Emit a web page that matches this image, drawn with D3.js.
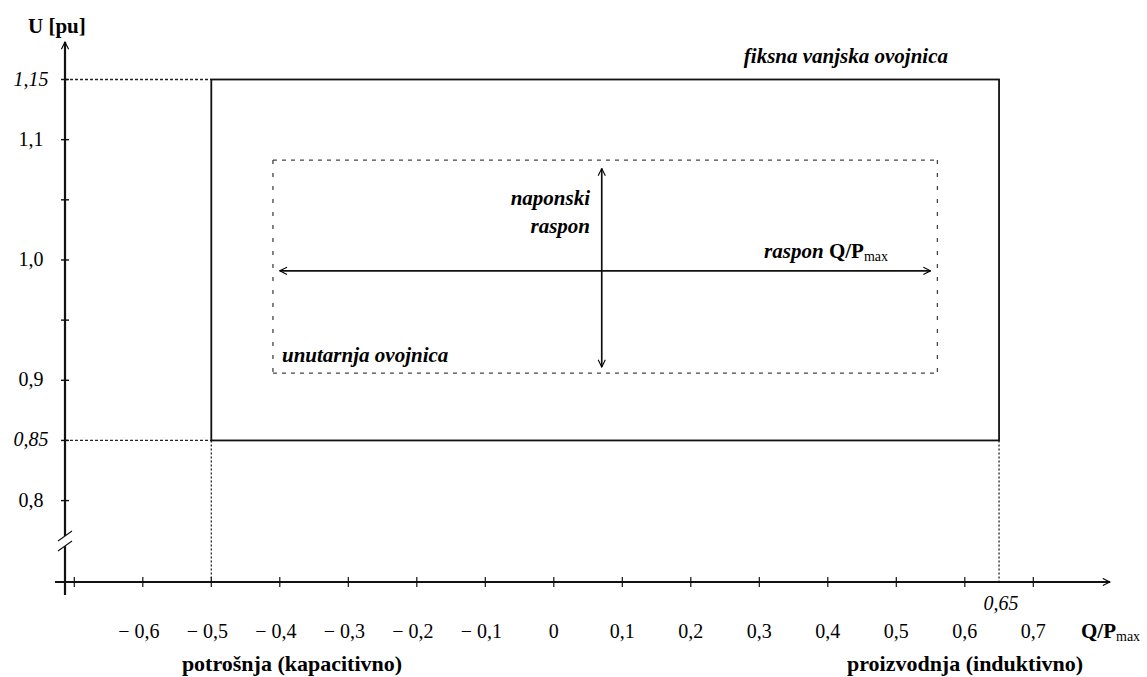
<!DOCTYPE html>
<html>
<head>
<meta charset="utf-8">
<script src="https://cdn.jsdelivr.net/npm/d3@7"></script>
<style>
  body { margin: 0; background: #fff; }
  svg { display: block; }
</style>
</head>
<body>
<div id="chart"></div>
<script>
// Q/Pmax axis ticks (every 0.1, from -0.7 to 0.7, -0.7 has no label)
const qTicks = [-0.7, -0.6, -0.5, -0.4, -0.3, -0.2, -0.1, 0, 0.1, 0.2, 0.3, 0.4, 0.5, 0.6, 0.7];
const qLabels = ["", "− 0,6", "− 0,5", "− 0,4", "− 0,3", "− 0,2", "− 0,1", "0", "0,1", "0,2", "0,3", "0,4", "0,5", "0,6", "0,7"];

// U axis ticks (every 0.05), labels only on some of them
const uTicks = [0.8, 0.85, 0.9, 0.95, 1.0, 1.05, 1.1, 1.15];
const uLabels = ["0,8", "0,85", "0,9", "", "1,0", "", "1,1", "1,15"];
const uItalic = [0.85, 1.15];

// fixed outer envelope
const outerQ = [-0.5, 0.65];
const outerU = [0.85, 1.15];

// inner envelope
const innerQ = [-0.41, 0.56];
const innerU = [0.906, 1.083];

// voltage range arrow (vertical) and Q range arrow (horizontal)
const uRangeQ = 0.07;
const uRange = [0.911, 1.076];
const qRangeU = 0.991;
const qRange = [-0.40, 0.55];

const width = 1147, height = 677;
const serif = "'Liberation Serif', 'Times New Roman', Tinos, 'DejaVu Serif', serif";

const x = d3.scaleLinear().domain([-0.7, 0.7]).range([74.3, 1033.3]);
const y = d3.scaleLinear().domain([0.8, 1.15]).range([500.6, 79.5]);

const axisQ = x.invert(65);     // where the U axis sits
const axisU = y.invert(582);    // where the Q axis sits

const svg = d3.select("#chart")
    .append("svg")
    .attr("width", width)
    .attr("height", height)
    .attr("font-family", serif);

// open arrow head
const defs = svg.append("defs");
defs.append("marker")
    .attr("id", "arrow")
    .attr("viewBox", "0 0 10 10")
    .attr("refX", 9)
    .attr("refY", 5)
    .attr("markerWidth", 9)
    .attr("markerHeight", 9)
    .attr("markerUnits", "userSpaceOnUse")
    .attr("orient", "auto-start-reverse")
    .append("path")
    .attr("d", "M1,1 L9,5 L1,9")
    .attr("fill", "none")
    .attr("stroke", "#000")
    .attr("stroke-width", 1.2);

// dotted guide lines from the axes to the outer envelope
const guides = svg.append("g")
    .attr("stroke", "#222")
    .attr("stroke-width", 1.3)
    .attr("fill", "none");

outerU.forEach(u => {
    guides.append("line")
        .attr("x1", x(axisQ)).attr("x2", x(outerQ[0]))
        .attr("y1", y(u)).attr("y2", y(u))
        .attr("stroke-dasharray", "3,2");
});
outerQ.forEach(q => {
    guides.append("line")
        .attr("x1", x(q)).attr("x2", x(q))
        .attr("y1", y(outerU[0])).attr("y2", y(axisU))
        .attr("stroke-dasharray", "2,2");
});

// outer envelope (solid)
svg.append("rect")
    .attr("x", x(outerQ[0]))
    .attr("y", y(outerU[1]))
    .attr("width", x(outerQ[1]) - x(outerQ[0]))
    .attr("height", y(outerU[0]) - y(outerU[1]))
    .attr("fill", "none")
    .attr("stroke", "#111")
    .attr("stroke-width", 1.8);

// inner envelope (dashed, horizontal and vertical edges have different dash rhythm)
const inner = svg.append("g")
    .attr("stroke", "#444")
    .attr("stroke-width", 1.3)
    .attr("fill", "none");
innerU.forEach(u => {
    inner.append("line")
        .attr("x1", x(innerQ[0])).attr("x2", x(innerQ[1]))
        .attr("y1", y(u)).attr("y2", y(u))
        .attr("stroke-dasharray", "4,5");
});
innerQ.forEach(q => {
    inner.append("line")
        .attr("x1", x(q)).attr("x2", x(q))
        .attr("y1", y(innerU[1])).attr("y2", y(innerU[0]))
        .attr("stroke-dasharray", "4,9");
});

// range arrows
svg.append("line")
    .attr("x1", x(uRangeQ)).attr("x2", x(uRangeQ))
    .attr("y1", y(uRange[0])).attr("y2", y(uRange[1]))
    .attr("stroke", "#111")
    .attr("stroke-width", 1.7)
    .attr("marker-start", "url(#arrow)")
    .attr("marker-end", "url(#arrow)");

svg.append("line")
    .attr("x1", x(qRange[0])).attr("x2", x(qRange[1]))
    .attr("y1", y(qRangeU)).attr("y2", y(qRangeU))
    .attr("stroke", "#111")
    .attr("stroke-width", 1.7)
    .attr("marker-start", "url(#arrow)")
    .attr("marker-end", "url(#arrow)");

// axes
const axes = svg.append("g").attr("stroke", "#111").attr("fill", "none");

// Q axis
axes.append("line")
    .attr("x1", x(axisQ) - 10).attr("x2", 1110)
    .attr("y1", y(axisU)).attr("y2", y(axisU))
    .attr("stroke-width", 2.2)
    .attr("marker-end", "url(#arrow)");

// U axis, with a break near the bottom
const breakU = y.invert(541);
axes.append("line")
    .attr("x1", x(axisQ)).attr("x2", x(axisQ))
    .attr("y1", y(axisU) + 13).attr("y2", y(breakU) + 5)
    .attr("stroke-width", 2.2);
axes.append("line")
    .attr("x1", x(axisQ)).attr("x2", x(axisQ))
    .attr("y1", y(breakU) - 5).attr("y2", 42)
    .attr("stroke-width", 2.2)
    .attr("marker-end", "url(#arrow)");
[-5, 5].forEach(d => {
    axes.append("line")
        .attr("x1", x(axisQ) - 7).attr("x2", x(axisQ) + 7)
        .attr("y1", y(breakU) + d + 5).attr("y2", y(breakU) + d - 5)
        .attr("stroke-width", 1.1);
});

// Q ticks
axes.selectAll(".qtick")
    .data(qTicks)
    .join("line")
    .attr("class", "qtick")
    .attr("x1", d => x(d)).attr("x2", d => x(d))
    .attr("y1", y(axisU) - 5).attr("y2", y(axisU) + 5)
    .attr("stroke-width", 1.2);

// U ticks
axes.selectAll(".utick")
    .data(uTicks)
    .join("line")
    .attr("class", "utick")
    .attr("x1", x(axisQ) - 4).attr("x2", x(axisQ) + 4)
    .attr("y1", d => y(d)).attr("y2", d => y(d))
    .attr("stroke-width", 1.4);

// tick labels
svg.append("g")
    .selectAll("text")
    .data(qTicks.map((q, i) => ({ q, label: qLabels[i] })).filter(d => d.label))
    .join("text")
    .attr("x", d => x(d.q) + (d.q < 0 ? -4 : 0))
    .attr("y", 638)
    .attr("text-anchor", "middle")
    .attr("font-size", 20)
    .text(d => d.label);

svg.append("g")
    .selectAll("text")
    .data(uTicks.map((u, i) => ({ u, label: uLabels[i] })).filter(d => d.label))
    .join("text")
    .attr("x", 31)
    .attr("y", d => y(d.u) + 6)
    .attr("text-anchor", "middle")
    .attr("font-size", 20)
    .attr("font-style", d => uItalic.includes(d.u) ? "italic" : "normal")
    .text(d => d.label);

// 0,65 marker label
svg.append("text")
    .attr("x", x(outerQ[1]) + 2)
    .attr("y", 610)
    .attr("text-anchor", "middle")
    .attr("font-size", 20)
    .attr("font-style", "italic")
    .text("0,65");

// axis titles
svg.append("text")
    .attr("x", 28).attr("y", 33)
    .attr("font-size", 21)
    .attr("font-weight", "bold")
    .text("U [pu]");

const qTitle = svg.append("text")
    .attr("x", 1081).attr("y", 638)
    .attr("font-size", 21)
    .attr("font-weight", "bold");
qTitle.append("tspan").text("Q/P");
qTitle.append("tspan").attr("font-size", 14).attr("font-weight", "normal").attr("dy", 3).text("max");

svg.append("text")
    .attr("x", 292).attr("y", 671)
    .attr("text-anchor", "middle")
    .attr("font-size", 22)
    .attr("font-weight", "bold")
    .text("potrošnja (kapacitivno)");

svg.append("text")
    .attr("x", 965).attr("y", 671)
    .attr("text-anchor", "middle")
    .attr("font-size", 22)
    .attr("font-weight", "bold")
    .text("proizvodnja (induktivno)");

// annotations
const ann = svg.append("g")
    .attr("font-size", 21)
    .attr("font-weight", "bold")
    .attr("font-style", "italic");

ann.append("text").attr("x", 948).attr("y", 63).attr("text-anchor", "end").text("fiksna vanjska ovojnica");
ann.append("text").attr("x", 590).attr("y", 205).attr("text-anchor", "end").text("naponski");
ann.append("text").attr("x", 590).attr("y", 233).attr("text-anchor", "end").text("raspon");
ann.append("text").attr("x", 282).attr("y", 362).text("unutarnja ovojnica");

const rq = ann.append("text").attr("x", 888).attr("y", 258).attr("text-anchor", "end");
rq.append("tspan").text("raspon ");
rq.append("tspan").attr("font-style", "normal").text("Q/P");
rq.append("tspan").attr("font-style", "normal").attr("font-weight", "normal").attr("font-size", 14).attr("dy", 3).text("max");
</script>
</body>
</html>
